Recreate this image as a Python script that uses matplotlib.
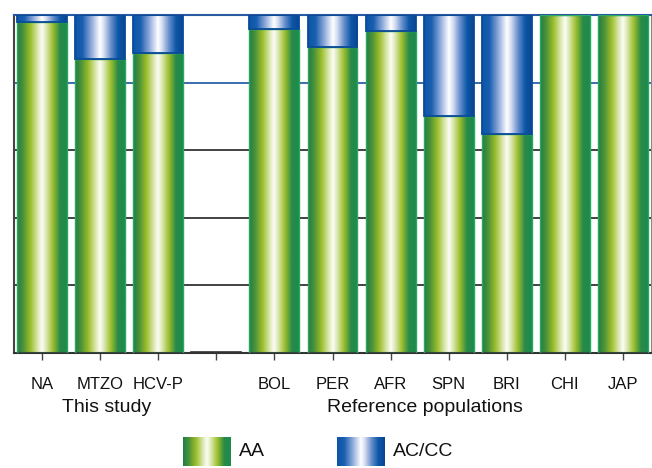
import matplotlib.pyplot as plt
import numpy as np
from matplotlib.colors import LinearSegmentedColormap

plt.rcParams['font.family'] = ['Liberation Sans Narrow', 'Liberation Sans', 'DejaVu Sans']

# data (fraction of genotype per population)
categories = ["NA", "MTZO", "HCV-P", "", "BOL", "PER", "AFR", "SPN", "BRI", "CHI", "JAP"]
aa_values = [0.979, 0.870, 0.888, 0.0, 0.959, 0.905, 0.953, 0.701, 0.648, 1.0, 1.0]
accc_values = [0.021, 0.130, 0.112, 0.0, 0.041, 0.095, 0.047, 0.299, 0.352, 0.0, 0.0]
groups = ["This study", "Reference populations"]

green = LinearSegmentedColormap.from_list("g", [
    (0.0, "#1f7d48"), (0.12, "#4a9238"), (0.27, "#9cbe2c"), (0.42, "#dde9b5"),
    (0.5, "#fbfdf5"), (0.58, "#dde9b5"), (0.72, "#9cbe2c"), (0.86, "#2a8a48"), (1.0, "#1b8a4e")])
blue = LinearSegmentedColormap.from_list("b", [
    (0.0, "#0b55a8"), (0.15, "#1a5fb0"), (0.32, "#8aa6d8"), (0.45, "#dfe7f6"),
    (0.5, "#ffffff"), (0.58, "#d5dff2"), (0.72, "#6a8fcc"), (0.86, "#0d58a8"), (1.0, "#0a4592")])
grad = np.linspace(0, 1, 256).reshape(1, -1)

fig = plt.figure(figsize=(6.52, 4.68), dpi=100)
ax = fig.add_axes([14 / 652, 1 - 353 / 468, 637 / 652, 338 / 468])

x = np.arange(len(categories))
w = 0.86

for yv in [0.2, 0.4, 0.6]:
    ax.axhline(yv, color="#222222", lw=1.2, zorder=0)
ax.axhline(0.8, color="#1a55a0", lw=1.2, zorder=0)

for xi, a, b in zip(x, aa_values, accc_values):
    if a + b == 0:
        ax.bar(xi, 0.002, w, color="#333333", edgecolor="#333333", lw=1.2, zorder=3)
        continue
    ax.imshow(grad, cmap=green, extent=(xi - w / 2, xi + w / 2, 0, a), aspect='auto', zorder=2)
    ax.bar(xi, a, w, fill=False, edgecolor="#2aa860", lw=1, zorder=3)
    if b > 0:
        ax.imshow(grad, cmap=blue, extent=(xi - w / 2, xi + w / 2, a, a + b), aspect='auto', zorder=2)
        ax.bar(xi, b, w, bottom=a, fill=False, edgecolor="#0a4a9a", lw=1.3, zorder=3)

ax.set_xlim(-0.483, 10.483)
ax.set_ylim(0, 1)
ax.set_yticks([])
ax.set_xticks(x)
ax.set_xticklabels(categories, fontsize=12, color="#111111")
ax.tick_params(axis='x', length=5, width=1, color="#444444", pad=12)
ax.spines['left'].set_color("#444444")
ax.spines['left'].set_linewidth(1.5)
ax.spines['bottom'].set_color("#333333")
ax.spines['bottom'].set_linewidth(1.5)
ax.spines['right'].set_color("#888888")
ax.spines['top'].set_color("#2a5aa0")
ax.spines['top'].set_linewidth(1.5)

fig.text(107 / 652, 1 - 408 / 468, groups[0], fontsize=14, ha='center', va='center', color="#111111")
fig.text(425 / 652, 1 - 408 / 468, groups[1], fontsize=14, ha='center', va='center', color="#111111")

# legend swatches
for x0, cmap, lab in [(183, green, "AA"), (337, blue, "AC/CC")]:
    sw = fig.add_axes([x0 / 652, 1 - 466 / 468, 48 / 652, 29 / 468])
    sw.imshow(grad, cmap=cmap, aspect='auto')
    sw.set_xticks([])
    sw.set_yticks([])
    for s in sw.spines.values():
        s.set_visible(False)
    fig.text((x0 + 56) / 652, 1 - 452 / 468, lab, fontsize=14, ha='left', va='center', color="#111111")

fig.savefig("out.png", dpi=100)
